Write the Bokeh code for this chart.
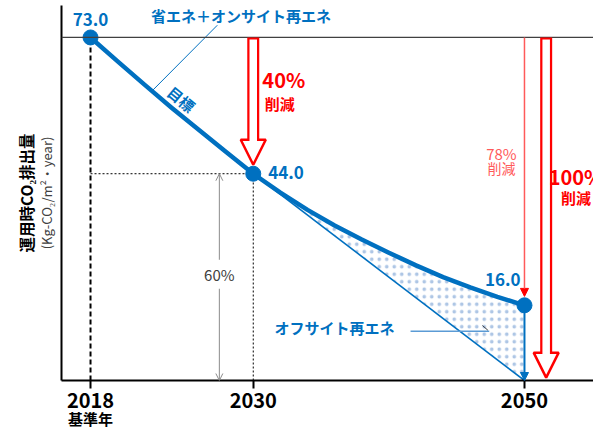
import math
from bokeh.plotting import figure
from bokeh.models import Label, Span, Arrow, NormalHead, OpenHead, FixedTicker, Range1d, LinearAxis
from bokeh.embed import file_html
from bokeh.resources import INLINE

# ---- data ----
years = [2018, 2020, 2022, 2024, 2026, 2028, 2030, 2032, 2034, 2036, 2038,
         2040, 2042, 2044, 2046, 2048, 2050]
target = [73.0, 67.9, 62.9, 58.0, 53.3, 48.6, 44.0, 40.0, 36.3, 33.0, 30.0,
          27.2, 24.5, 22.0, 19.8, 17.8, 16.0]
milestone_years = [2018, 2030, 2050]
milestone_values = [73.0, 44.0, 16.0]
milestone_labels = ["73.0", "44.0", "16.0"]
offsite_years = [2030, 2050]
offsite_values = [44.0, 0.0]
tick_years = [2018, 2030, 2050]
base_year_label = {2018: "基準年"}
base_value = 73.0
reduction_labels = ["40%", "78%", "100%", "60%"]
y_title = "運用時CO₂排出量"
y_unit = "(Kg-CO₂/m²・year)"

# callout leader lines (annotation positions)
callout_top_x = [2027.35, 2022.6]
callout_top_y = [75.6, 61.8]
callout_off_x = [2041.6, 2047.4]
callout_off_y = [10.5, 10.5]
callout_off_tick_x = [2046.9, 2047.3]
callout_off_tick_y = [11.7, 10.7]

BLUE = "#0070C0"
RED = "#FF0000"
LRED = "#FF5A5A"
FONT = "Noto Sans CJK JP"

p = figure(width=593, height=431, title=None,
           x_range=Range1d(2015.86, 2055.09), y_range=Range1d(0, 79.8),
           output_backend="svg", toolbar_location=None,
           min_border_left=61, min_border_right=0, min_border_top=5, min_border_bottom=49)
p.grid.visible = False
p.outline_line_color = None
p.background_fill_color = "white"

# x axis
p.xaxis.ticker = FixedTicker(ticks=tick_years)
p.xaxis.major_label_text_font = FONT
p.xaxis.major_label_text_font_style = "bold"
p.xaxis.major_label_text_font_size = "20px"
p.xaxis.major_label_text_color = "black"
p.xaxis.axis_line_width = 2
p.xaxis.axis_line_color = "black"
p.xaxis.major_tick_line_width = 2
p.xaxis.major_tick_line_color = "black"
p.xaxis.major_tick_out = 8
p.xaxis.major_tick_in = 0
p.xaxis.minor_tick_line_color = None
p.xaxis.major_label_standoff = 4

base_axis = LinearAxis(ticker=FixedTicker(ticks=[2018]), major_label_overrides=base_year_label,
                       axis_line_color=None, major_tick_line_color=None, minor_tick_line_color=None,
                       major_tick_out=0, major_tick_in=0, major_label_standoff=-3,
                       major_label_text_font=FONT, major_label_text_font_style="bold",
                       major_label_text_font_size="15px", major_label_text_color="black")
p.add_layout(base_axis, "below")

# y axes (no ticks), two-line title
p.yaxis.ticker = FixedTicker(ticks=[])
p.yaxis.minor_tick_line_color = None
p.yaxis.major_tick_line_color = None
p.yaxis.major_tick_out = 0
p.yaxis.major_tick_in = 0
p.yaxis.axis_line_width = 2
p.yaxis.axis_line_color = "black"
p.yaxis.axis_label = y_unit
p.yaxis.axis_label_text_font = FONT
p.yaxis.axis_label_text_font_style = "normal"
p.yaxis.axis_label_text_font_size = "13px"
p.yaxis.axis_label_text_color = "#404040"
p.yaxis.axis_label_standoff = 6

title_axis = LinearAxis(ticker=FixedTicker(ticks=[]), axis_line_color=None,
                        major_tick_line_color=None, minor_tick_line_color=None,
                        major_tick_out=0, major_tick_in=0,
                        axis_label=y_title, axis_label_text_font=FONT,
                        axis_label_text_font_style="bold", axis_label_text_font_size="15.5px",
                        axis_label_text_color="black", axis_label_standoff=-3)
p.add_layout(title_axis, "left")

# baseline horizontal at 73
p.add_layout(Span(location=base_value, dimension="width", line_color="#404040", line_width=1.2))

# guide lines
p.segment(x0=[milestone_years[0]], y0=[0], x1=[milestone_years[0]], y1=[milestone_values[0]],
          line_color="black", line_width=2, line_dash="5 3")
p.segment(x0=[milestone_years[1]], y0=[0], x1=[milestone_years[1]], y1=[milestone_values[1]],
          line_color="black", line_width=1, line_dash="2 2")
p.segment(x0=[milestone_years[0]], y0=[milestone_values[1]], x1=[milestone_years[1]], y1=[milestone_values[1]],
          line_color="black", line_width=1, line_dash="2 2")

# 60% grey double arrow
p.add_layout(Arrow(x_start=2027.5, y_start=milestone_values[1], x_end=2027.5, y_end=0,
                   line_color="#8c8c8c", line_width=1,
                   start=OpenHead(size=7, line_color="#8c8c8c", line_width=1),
                   end=OpenHead(size=7, line_color="#8c8c8c", line_width=1)))
p.add_layout(Label(x=2027.5, y=22.6, text=reduction_labels[3], text_font=FONT,
                   text_font_size="15px", text_color="#404040", text_align="center",
                   text_baseline="middle", background_fill_color="white", padding=4))

# off-site renewable hatch region
hx = years[6:] + [offsite_years[1]]
hy = target[6:] + [offsite_values[1]]
p.patch(hx, hy, fill_color=None, line_color=None, hatch_pattern="dot",
        hatch_color="#3d78c2", hatch_scale=7.5, hatch_alpha=0.42)

# off-site line
p.line(offsite_years, offsite_values, line_color=BLUE, line_width=1.6)

# blue arrow at 2050 to zero
p.add_layout(Arrow(x_start=milestone_years[2], y_start=milestone_values[2], x_end=milestone_years[2], y_end=0,
                   line_color=BLUE, line_width=2,
                   end=NormalHead(size=8, fill_color=BLUE, line_color=BLUE, line_width=1)))

# main target curve
p.line(years, target, line_color=BLUE, line_width=4.5, line_join="round")
p.scatter(milestone_years, milestone_values, size=15, color=BLUE)

# leader lines
p.line(callout_top_x, callout_top_y, line_color=BLUE, line_width=1)
p.line(callout_off_x, callout_off_y, line_color="#5B9BD5", line_width=1.5)
p.line(callout_off_tick_x, callout_off_tick_y, line_color="#404040", line_width=1)

# hollow red block arrows
def block_arrow(x, y_top, y_tip):
    p.add_layout(Arrow(x_start=x, y_start=y_top, x_end=x, y_end=y_tip,
                       line_color=RED, line_width=12,
                       end=NormalHead(size=25, fill_color="white", line_color=RED, line_width=2.5)))
    p.add_layout(Arrow(x_start=x, y_start=y_top - 0.45, x_end=x, y_end=y_tip,
                       line_color="white", line_width=7.5,
                       end=NormalHead(size=21, fill_alpha=0, line_alpha=0)))

block_arrow(2030, base_value, 45.9)
block_arrow(2051.6, base_value, 0.6)

# thin 78% arrow
p.add_layout(Arrow(x_start=2050, y_start=base_value, x_end=2050, y_end=17.9,
                   line_color=LRED, line_width=1.5,
                   end=NormalHead(size=8, fill_color=RED, line_color=RED, line_width=1)))

# value labels
p.add_layout(Label(x=2018, y=76.8, text=milestone_labels[0], text_font=FONT, text_font_style="bold",
                   text_font_size="17px", text_color=BLUE, text_align="center", text_baseline="middle"))
p.add_layout(Label(x=2031.1, y=44.2, text=milestone_labels[1], text_font=FONT, text_font_style="bold",
                   text_font_size="17px", text_color=BLUE, text_align="left", text_baseline="middle"))
p.add_layout(Label(x=2048.4, y=21.5, text=milestone_labels[2], text_font=FONT, text_font_style="bold",
                   text_font_size="17px", text_color=BLUE, text_align="center", text_baseline="middle"))

# reduction labels
p.add_layout(Label(x=2030.67, y=64.0, text=reduction_labels[0], text_font=FONT, text_font_style="bold",
                   text_font_size="20px", text_color=RED, text_align="left", text_baseline="middle"))
p.add_layout(Label(x=2030.85, y=58.9, text="削減", text_font=FONT, text_font_style="bold",
                   text_font_size="15px", text_color=RED, text_align="left", text_baseline="middle"))
p.add_layout(Label(x=2048.3, y=48.4, text=reduction_labels[1], text_font=FONT,
                   text_font_size="15px", text_color=LRED, text_align="center", text_baseline="middle"))
p.add_layout(Label(x=2048.3, y=45.2, text="削減", text_font=FONT,
                   text_font_size="14px", text_color=LRED, text_align="center", text_baseline="middle"))
p.add_layout(Label(x=2053.8, y=43.4, text=reduction_labels[2], text_font=FONT, text_font_style="bold",
                   text_font_size="20px", text_color=RED, text_align="center", text_baseline="middle"))
p.add_layout(Label(x=2053.8, y=38.9, text="削減", text_font=FONT, text_font_style="bold",
                   text_font_size="15px", text_color=RED, text_align="center", text_baseline="middle"))

# callout texts
p.add_layout(Label(x=2029.1, y=77.6, text="省エネ＋オンサイト再エネ", text_font=FONT, text_font_style="bold",
                   text_font_size="15px", text_color=BLUE, text_align="center", text_baseline="middle"))
p.add_layout(Label(x=2024.7, y=59.9, text="目標", text_font=FONT, text_font_style="bold",
                   text_font_size="15px", text_color=BLUE, text_align="center", text_baseline="middle",
                   angle=-0.69))
p.add_layout(Label(x=2036.0, y=11.3, text="オフサイト再エネ", text_font=FONT, text_font_style="bold",
                   text_font_size="15px", text_color=BLUE, text_align="center", text_baseline="middle"))

open("out.html", "w").write(file_html(p, INLINE))
